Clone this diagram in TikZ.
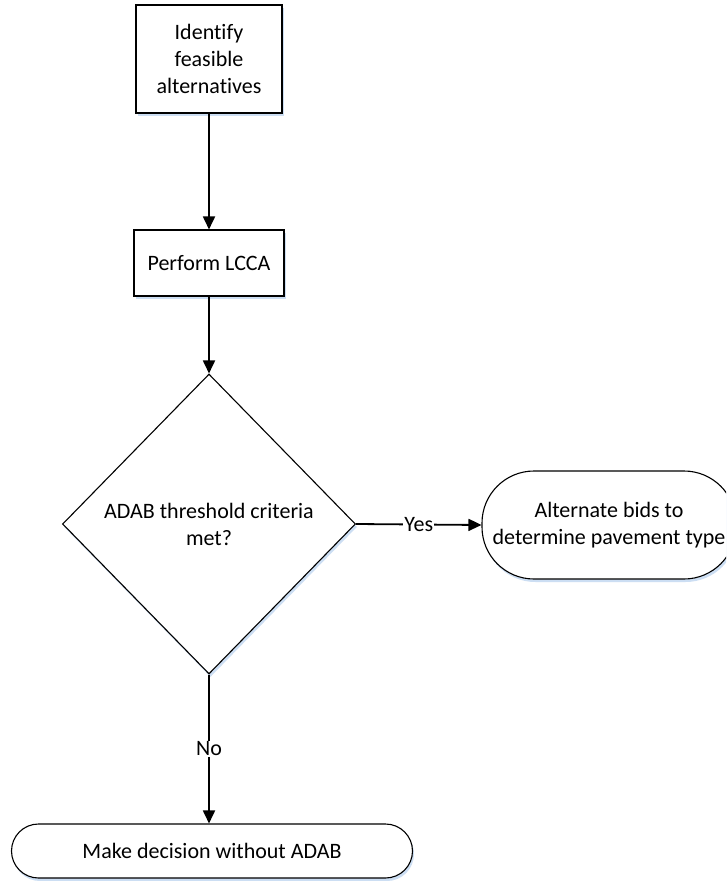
\documentclass[tikz,border=0pt]{standalone}
\usepackage{fontspec}
\setmainfont{Carlito}[Ligatures=NoCommon]
\usetikzlibrary{shapes.geometric,shadows,arrows.meta}
\definecolor{shadowblue}{RGB}{204,222,243}
\tikzset{
  base/.style={draw=black, line width=1.1pt, fill=white, align=center, inner sep=0pt,
    font=\fontsize{22}{27}\selectfont,
    drop shadow={shadow xshift=1.5pt, shadow yshift=-3pt, fill=shadowblue, opacity=1}},
  procbox/.style={base, rectangle},
  decide/.style={base, diamond},
  termbox/.style={base, rectangle},
  conn/.style={line width=1.8pt, -{Triangle[length=13pt,width=12pt]}},
  lbl/.style={fill=white, inner sep=1pt, font=\fontsize{22}{27}\selectfont}
}
\begin{document}
\begin{tikzpicture}[x=1pt,y=-1pt]
\useasboundingbox (0,0) rectangle (726,881);
\clip (0,0) rectangle (726,881);
\fill[white] (0,0) rectangle (726,881);
\node[procbox, minimum width=146pt, minimum height=108pt] (b1) at (209,59) {Identify\\feasible\\alternatives};
\node[procbox, minimum width=150pt, minimum height=66pt] (b2) at (209,263) {Perform LCCA};
\node[decide, minimum width=293pt, minimum height=300pt] (d) at (209,524) {ADAB threshold criteria\\met?};
\node[termbox, rounded corners=52pt, minimum width=254pt, minimum height=108pt] (t1) at (609,525) {Alternate bids to\\determine pavement type};
\node[termbox, rounded corners=27pt, minimum width=401pt, minimum height=54pt] (t2) at (212,851) {Make decision without ADAB};
\draw[conn] (b1) -- (b2);
\draw[conn] (b2) -- (d);
\draw[conn] (d.east) -- node[lbl] {Yes} (t1.west);
\draw[conn] (d.south) -- node[lbl] {No} (d.south |- t2.north);
\end{tikzpicture}
\end{document}
